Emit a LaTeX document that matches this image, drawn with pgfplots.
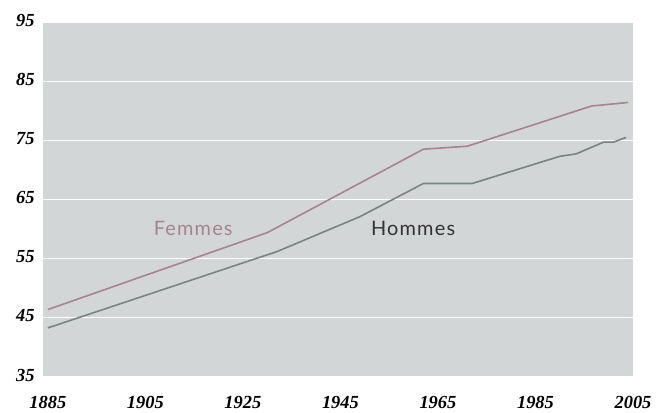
\documentclass[border=0pt]{standalone}
\usepackage{fontspec}
\setmainfont{Liberation Serif}
\newfontfamily\labfont[LetterSpace=6]{Lato}
\usepackage{pgfplots}
\pgfplotsset{compat=1.18}
\definecolor{plotbg}{RGB}{211,214,215}
\definecolor{femc}{RGB}{166,132,142}
\definecolor{homc}{RGB}{121,131,129}
\begin{document}
\begin{tikzpicture}
\begin{axis}[
  scale only axis,
  width=590bp, height=355bp,
  xmin=1884, xmax=2005,
  ymin=35, ymax=95,
  xtick={1885,1905,...,2005},
  ytick={35,45,...,95},
  axis line style={draw=none},
  major tick length=0pt,
  axis background/.style={fill=plotbg},
  ymajorgrids,
  grid style={white, line width=1.1bp},
  /pgf/number format/assume math mode=true,
  /pgf/number format/1000 sep={},
  ticklabel style={font=\fontsize{18.5}{18.5}\selectfont\bfseries\itshape, text=black},
  xticklabel style={yshift=-16bp},
  yticklabel style={xshift=-5bp, yshift=2bp},
  clip=false,
]
\addplot[femc, line width=1.6bp] coordinates {
 (1885,46.4) (1930,59.4) (1962,73.5) (1971,74.0) (1996.5,80.8) (2004,81.4)
};
\addplot[homc, line width=1.6bp] coordinates {
 (1885,43.3) (1932,56.2) (1949,62.1) (1962,67.7) (1972,67.7) (1990,72.3) (1993.3,72.7) (1999,74.7) (2001,74.7) (2003.6,75.5)
};
\node[text=femc, font=\labfont\fontsize{20}{20}\selectfont] at (axis cs:1914.8,60.1) {Femmes};
\node[text=black!80, font=\labfont\fontsize{20}{20}\selectfont] at (axis cs:1959.9,60.1) {Hommes};
\end{axis}
\path (current axis.south west) ++(-43bp,-35bp) coordinate (bbsw);
\path (current axis.north east) ++(30bp,22bp) coordinate (bbne);
\useasboundingbox (bbsw) rectangle (bbne);
\end{tikzpicture}
\end{document}
